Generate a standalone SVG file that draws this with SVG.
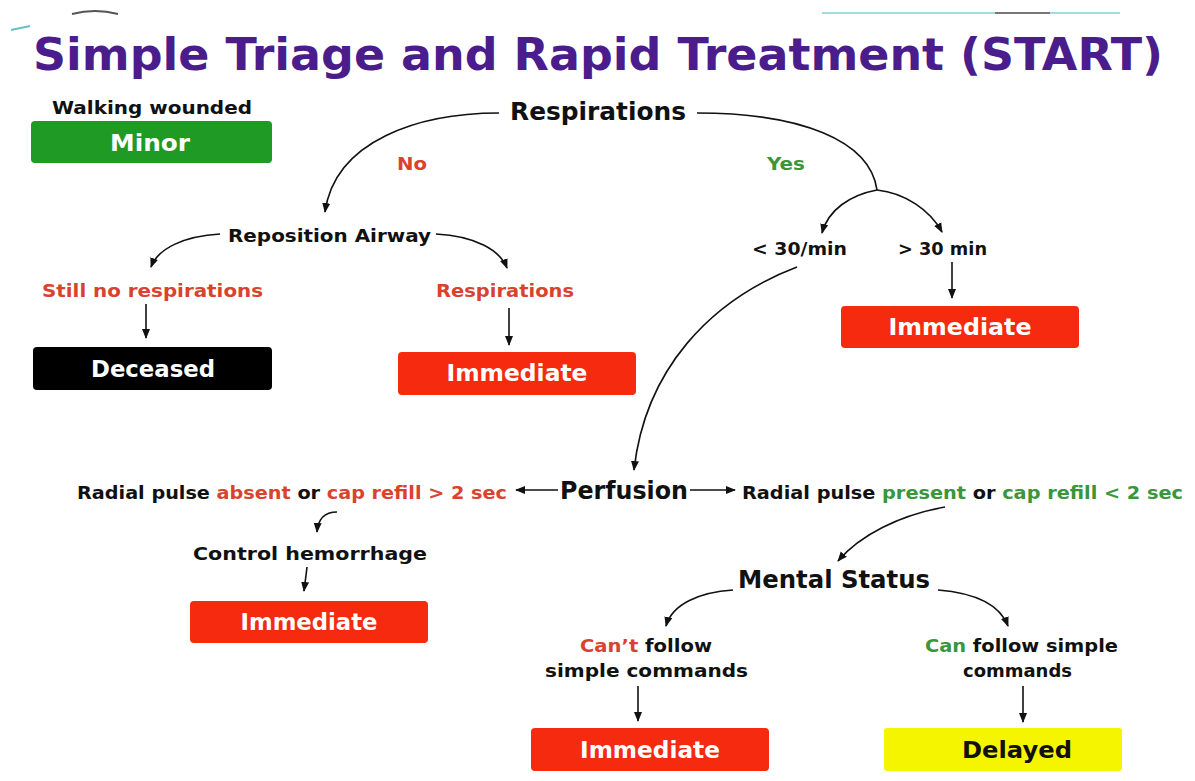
<svg xmlns="http://www.w3.org/2000/svg" width="1195" height="781" viewBox="0 0 1195 781">
<defs>
<marker id="ah" markerWidth="10" markerHeight="10" refX="9" refY="5" orient="auto" markerUnits="userSpaceOnUse">
<path d="M0,1 L10,5 L0,9 Z" fill="#111"/>
</marker>
<style>
.t{font-family:"DejaVu Sans","Liberation Sans",sans-serif;font-weight:bold;fill:#111}
.title{font-size:45px;fill:#4a1c8c}
.s17{font-size:17px}
.s18{font-size:18px}
.s24{font-size:24px}
.red{fill:#d9432d}
.grn{fill:#3a963a}
.box{font-size:23px;fill:#fff;text-anchor:middle}
.c{stroke:#111;stroke-width:1.6;fill:none;marker-end:url(#ah)}
</style>
</defs>
<rect width="1195" height="781" fill="#fff"/>
<g id="decor">
<path d="M72 14 Q95 8 118 14" stroke="#555" stroke-width="2" fill="none"/>
<line x1="822" y1="13" x2="1120" y2="13" stroke="#9fdede" stroke-width="2"/>
<line x1="995" y1="13" x2="1050" y2="13" stroke="#777" stroke-width="2"/>
<path d="M11 30 L30 26" stroke="#6ac0c0" stroke-width="2"/>
</g>
<g id="title">
<text class="t title" x="33" y="70" textLength="1130" lengthAdjust="spacingAndGlyphs">Simple Triage and Rapid Treatment (START)</text>
</g>
<g id="minor">
<text class="t s18" x="52" y="114" textLength="200" lengthAdjust="spacingAndGlyphs">Walking wounded</text>
<rect x="31" y="121" width="241" height="42" rx="4" fill="#1e9a25"/>
<text class="t box" x="150" y="151" textLength="80" lengthAdjust="spacingAndGlyphs">Minor</text>
</g>
<g id="respirations">
<text class="t s24" x="510" y="120" textLength="176" lengthAdjust="spacingAndGlyphs">Respirations</text>
</g>
<g id="no"><text class="t s17 red" x="397" y="170" textLength="30" lengthAdjust="spacingAndGlyphs">No</text></g>
<g id="yes"><text class="t s17 grn" x="767" y="170" textLength="38" lengthAdjust="spacingAndGlyphs">Yes</text></g>
<g id="reposition">
<text class="t s17" x="228" y="242" textLength="203" lengthAdjust="spacingAndGlyphs">Reposition Airway</text>
</g>
<g id="still-no">
<text class="t s17 red" x="42" y="297" textLength="221" lengthAdjust="spacingAndGlyphs">Still no respirations</text>
</g>
<g id="resp2">
<text class="t s17 red" x="436" y="297" textLength="138" lengthAdjust="spacingAndGlyphs">Respirations</text>
</g>
<g id="deceased">
<rect x="33" y="347" width="239" height="43" rx="4" fill="#000"/>
<text class="t box" x="153" y="377" textLength="124" lengthAdjust="spacingAndGlyphs">Deceased</text>
</g>
<g id="immediate1">
<rect x="398" y="352" width="238" height="43" rx="4" fill="#f52a0e"/>
<text class="t box" x="517" y="381" textLength="141" lengthAdjust="spacingAndGlyphs">Immediate</text>
</g>
<g id="lt30"><text class="t s18" x="752" y="255" textLength="95" lengthAdjust="spacingAndGlyphs">&lt; 30/min</text></g>
<g id="gt30"><text class="t s18" x="898" y="255" textLength="89" lengthAdjust="spacingAndGlyphs">&gt; 30 min</text></g>
<g id="immediate2">
<rect x="841" y="306" width="238" height="42" rx="4" fill="#f52a0e"/>
<text class="t box" x="960" y="335" textLength="143" lengthAdjust="spacingAndGlyphs">Immediate</text>
</g>
<g id="perfusion">
<text class="t s24" x="560" y="499" textLength="128" lengthAdjust="spacingAndGlyphs">Perfusion</text>
</g>
<g id="absent">
<text class="t s17" x="77" y="499" textLength="430" lengthAdjust="spacingAndGlyphs">Radial pulse <tspan class="red">absent</tspan> or <tspan class="red">cap refill &gt; 2 sec</tspan></text>
</g>
<g id="present">
<text class="t s17" x="742" y="499" textLength="441" lengthAdjust="spacingAndGlyphs">Radial pulse <tspan class="grn">present</tspan> or <tspan class="grn">cap refill &lt; 2 sec</tspan></text>
</g>
<g id="control">
<text class="t s17" x="193" y="560" textLength="234" lengthAdjust="spacingAndGlyphs">Control hemorrhage</text>
</g>
<g id="immediate3">
<rect x="190" y="601" width="238" height="42" rx="4" fill="#f52a0e"/>
<text class="t box" x="309" y="630" textLength="137" lengthAdjust="spacingAndGlyphs">Immediate</text>
</g>
<g id="mental">
<text class="t s24" x="738" y="588" textLength="192" lengthAdjust="spacingAndGlyphs">Mental Status</text>
</g>
<g id="cant">
<text class="t s17" x="580" y="652" textLength="132" lengthAdjust="spacingAndGlyphs"><tspan class="red">Can’t</tspan> follow</text>
<text class="t s17" x="545" y="677" textLength="203" lengthAdjust="spacingAndGlyphs">simple commands</text>
</g>
<g id="can">
<text class="t s17" x="925" y="652" textLength="193" lengthAdjust="spacingAndGlyphs"><tspan class="grn">Can</tspan> follow simple</text>
<text class="t s17" x="963" y="677" textLength="109" lengthAdjust="spacingAndGlyphs">commands</text>
</g>
<g id="immediate4">
<rect x="531" y="728" width="238" height="43" rx="4" fill="#f52a0e"/>
<text class="t box" x="650" y="758" textLength="140" lengthAdjust="spacingAndGlyphs">Immediate</text>
</g>
<g id="delayed">
<rect x="884" y="728" width="238" height="43" rx="3" fill="#f5f500"/>
<text class="t box" x="1017" y="758" style="fill:#111" textLength="110" lengthAdjust="spacingAndGlyphs">Delayed</text>
</g>
<g id="connectors">
<path class="c" d="M499 113 C420 113 335 140 325 212"/>
<path d="M697 113 C800 113 870 140 877 190" stroke="#111" stroke-width="1.6" fill="none"/>
<path class="c" d="M877 190 C850 195 828 210 822 233"/>
<path class="c" d="M877 190 C905 193 930 210 942 232"/>
<path class="c" d="M220 234 C185 236 158 248 151 267"/>
<path class="c" d="M436 234 C475 236 500 250 507 268"/>
<line class="c" x1="146" y1="304" x2="146" y2="338"/>
<line class="c" x1="509" y1="308" x2="509" y2="345"/>
<line class="c" x1="952" y1="262" x2="952" y2="298"/>
<path class="c" d="M797 267 C710 300 645 370 634 470"/>
<line class="c" x1="558" y1="490" x2="516" y2="490"/>
<line class="c" x1="690" y1="490" x2="735" y2="490"/>
<path class="c" d="M337 512 C325 512 318 519 317 532"/>
<path class="c" d="M307 567 C306 576 305 583 304 591"/>
<path class="c" d="M945 507 C900 515 860 535 838 561"/>
<path class="c" d="M733 590 C700 592 672 604 666 626"/>
<path class="c" d="M938 590 C975 593 1000 605 1008 626"/>
<line class="c" x1="638" y1="686" x2="638" y2="721"/>
<line class="c" x1="1023" y1="686" x2="1023" y2="722"/>
</g>
</svg>
